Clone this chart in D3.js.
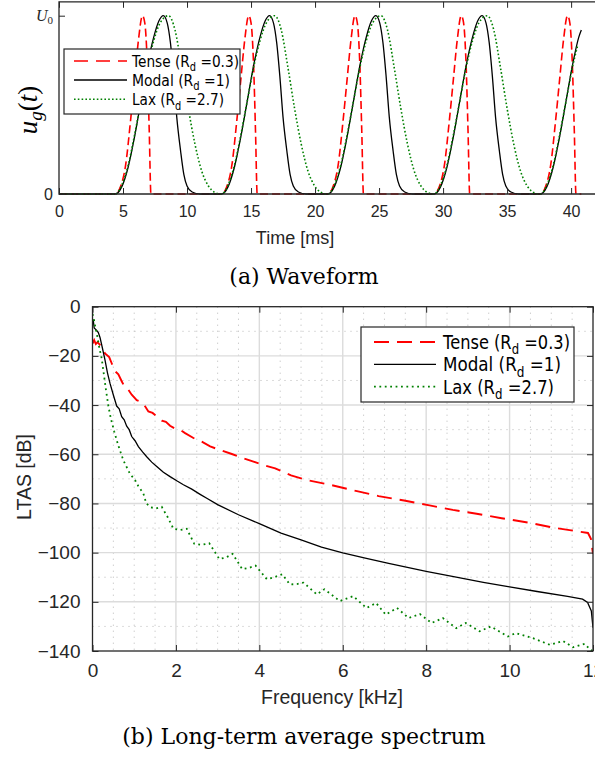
<!DOCTYPE html>
<html lang="en">
<head>
<meta charset="utf-8">
<title>Glottal waveform and LTAS</title>
<script src="https://d3js.org/d3.v7.min.js"></script>
<style>
body { margin: 0; background: #fff; }
svg { display: block; }
</style>
</head>
<body>
<div id="chart"></div>
<script>

// ---------- data ----------

// (a) waveform, [time ms, u/U0]
var tenseWave = [[0,0],
  [4.4,0],[4.8,.04],[5.2,.16],[5.6,.42],[5.9,.64],[6.2,.86],[6.52,1],[6.7,.96],[6.9,.72],[7.05,.35],[7.18,0],
  [12.7,0],[13.1,.04],[13.5,.16],[13.9,.42],[14.2,.64],[14.5,.86],[14.82,1],[15.0,.96],[15.2,.72],[15.35,.35],[15.48,0],
  [21.0,0],[21.4,.04],[21.8,.16],[22.2,.42],[22.5,.64],[22.8,.86],[23.12,1],[23.3,.96],[23.5,.72],[23.65,.35],[23.78,0],
  [29.3,0],[29.7,.04],[30.1,.16],[30.5,.42],[30.8,.64],[31.1,.86],[31.42,1],[31.6,.96],[31.8,.72],[31.95,.35],[32.08,0],
  [37.6,0],[38.0,.04],[38.4,.16],[38.8,.42],[39.1,.64],[39.4,.86],[39.72,1],[39.9,.96],[40.1,.72],[40.25,.35],[40.38,0],[40.8,0]];

var modalWave = [[0,0],
  [4.4,0],[4.9,.04],[5.4,.15],[5.9,.32],[6.4,.52],[6.9,.72],[7.4,.88],[7.8,.97],[8.15,1],[8.45,.96],[8.7,.85],[8.95,.66],[9.2,.43],[9.5,.24],[9.75,.11],[10.0,.045],[10.4,.011],[11.0,0],
  [12.7,0],[13.2,.04],[13.7,.15],[14.2,.32],[14.7,.52],[15.2,.72],[15.7,.88],[16.1,.97],[16.45,1],[16.75,.96],[17.0,.85],[17.25,.66],[17.5,.43],[17.8,.24],[18.05,.11],[18.3,.045],[18.7,.011],[19.3,0],
  [21.0,0],[21.5,.04],[22.0,.15],[22.5,.32],[23.0,.52],[23.5,.72],[24.0,.88],[24.4,.97],[24.75,1],[25.05,.96],[25.3,.85],[25.55,.66],[25.8,.43],[26.1,.24],[26.35,.11],[26.6,.045],[27.0,.011],[27.6,0],
  [29.3,0],[29.8,.04],[30.3,.15],[30.8,.32],[31.3,.52],[31.8,.72],[32.3,.88],[32.7,.97],[33.05,1],[33.35,.96],[33.6,.85],[33.85,.66],[34.1,.43],[34.4,.24],[34.65,.11],[34.9,.045],[35.3,.011],[35.9,0],
  [37.6,0],[38.1,.04],[38.6,.15],[39.1,.32],[39.6,.52],[40.1,.72],[40.6,.88],[40.8,.92]];

var laxWave = [[0,0],
  [4.4,0],[4.9,.05],[5.4,.16],[5.9,.33],[6.4,.52],[6.9,.71],[7.4,.86],[7.9,.96],[8.55,1],[9.06,.92],[9.58,.71],[10.1,.48],[10.62,.28],[11.14,.13],[11.67,.045],[12.19,.008],[12.6,0],
  [12.7,0],[13.2,.05],[13.7,.16],[14.2,.33],[14.7,.52],[15.2,.71],[15.7,.86],[16.2,.96],[16.85,1],[17.36,.92],[17.88,.71],[18.4,.48],[18.92,.28],[19.44,.13],[19.97,.045],[20.49,.008],[20.9,0],
  [21.0,0],[21.5,.05],[22.0,.16],[22.5,.33],[23.0,.52],[23.5,.71],[24.0,.86],[24.5,.96],[25.15,1],[25.66,.92],[26.18,.71],[26.7,.48],[27.22,.28],[27.74,.13],[28.27,.045],[28.79,.008],[29.2,0],
  [29.3,0],[29.8,.05],[30.3,.16],[30.8,.33],[31.3,.52],[31.8,.71],[32.3,.86],[32.8,.96],[33.45,1],[33.96,.92],[34.48,.71],[35.0,.48],[35.52,.28],[36.04,.13],[36.57,.045],[37.09,.008],[37.5,0],
  [37.6,0],[38.1,.05],[38.6,.16],[39.1,.33],[39.6,.52],[40.1,.71],[40.5,.83]];

var timeTicks = [0,5,10,15,20,25,30,35,40];

// (b) LTAS, [frequency kHz, dB]
var tenseLtas = [[0,-15],[0.04,-13.6],[0.08,-15.2],[0.12,-14.4],[0.22,-16.3],[0.3,-19],[0.4,-20.5],[0.46,-23],[0.54,-26.2],
  [0.62,-27.5],[0.7,-30.3],[0.78,-33],[0.86,-33.8],[0.94,-35.8],[1.06,-38],[1.16,-38.6],[1.26,-40.5],[1.34,-42.6],
  [1.44,-43.2],[1.54,-44.6],[1.66,-46.3],[1.76,-46.8],[1.86,-48.4],[2.02,-50],[2.12,-50.3],[2.22,-51.4],[2.42,-53.4],
  [2.62,-54.9],[2.82,-56.8],[3.06,-58.3],[3.34,-59.9],[3.58,-61.4],[3.86,-63],[4.1,-64.4],[4.38,-65.7],[4.76,-68.6],
  [5.17,-70.6],[5.77,-72.7],[6.34,-75],[6.86,-77],[7.47,-78.8],[8.08,-80.8],[8.64,-82.6],[9.21,-84.2],[9.81,-86],
  [10.48,-87.9],[11.07,-89.9],[11.65,-91.4],[11.88,-92],[11.95,-94.4],[12,-100.5]];

var modalLtas = [[0,-6.5],[0.02,-5.8],[0.04,-8.6],[0.1,-9.6],[0.14,-10.5],[0.18,-12.5],[0.24,-17],[0.3,-21.7],[0.36,-27],
  [0.42,-31.2],[0.5,-35.9],[0.58,-40.4],[0.64,-41.5],[0.7,-44.7],[0.76,-46],[0.82,-48.6],[0.88,-50],[0.94,-52.8],
  [1.02,-54.5],[1.1,-56.9],[1.2,-59],[1.3,-61],[1.42,-63.2],[1.54,-65],[1.7,-67.3],[1.86,-69.1],[2.02,-70.8],
  [2.18,-72.4],[2.38,-74.2],[2.58,-76.3],[2.74,-77.9],[3,-80.5],[3.5,-84.6],[4,-88.2],[4.52,-92.1],[5,-94.8],
  [5.49,-97.8],[6,-100.1],[6.54,-102.2],[7.1,-104.4],[8,-107.6],[8.72,-110],[9.37,-112.1],[10,-113.9],[10.66,-115.8],
  [11.39,-117.8],[11.75,-118.9],[11.87,-120.3],[11.96,-123.7],[12,-130.5]];

var laxLtas = [[0,-3],[0.02,-4],[0.06,-7.5],[0.12,-12.5],[0.16,-16.5],[0.22,-21],[0.26,-26],[0.32,-33.5],[0.38,-40.3],
  [0.44,-45.5],[0.52,-50.7],[0.62,-56.5],[0.74,-62.5],[0.9,-68],[1.02,-70.5],[1.1,-73],[1.22,-76],[1.29,-80],
  [1.4,-81.6],[1.52,-82],[1.66,-81.4],[1.8,-85.5],[1.94,-90.3],[2.1,-90.8],[2.26,-90.3],[2.44,-96.4],[2.62,-96.8],
  [2.8,-96.2],[3.04,-102.6],[3.2,-102],[3.36,-100.5],[3.59,-106.7],[3.75,-106.2],[3.91,-105.3],[4.18,-110.8],
  [4.36,-110],[4.55,-108.8],[4.73,-112.9],[4.9,-112.8],[5.06,-112.2],[5.38,-117],[5.56,-114.9],[5.93,-119.7],
  [6.25,-117.7],[6.57,-122.5],[6.8,-120.5],[7.03,-125.2],[7.3,-122.5],[7.58,-126.6],[7.85,-125],[8.13,-128.6],
  [8.4,-126.6],[8.72,-130.7],[8.95,-128.6],[9.28,-132],[9.55,-130],[9.96,-134.1],[10.15,-132.7],[10.56,-134.8],
  [10.97,-137.5],[11.28,-135.9],[11.52,-138.5],[11.8,-137.1],[11.94,-139.6],[12,-140]];

var freqTicks = [0,2,4,6,8,10,12];
var dbTicks = [0,-20,-40,-60,-80,-100,-120,-140];
var freqMinor = [0.5,1,1.5,2.5,3,3.5,4.5,5,5.5,6.5,7,7.5,8.5,9,9.5,10.5,11,11.5];
var dbMinor = [-10,-30,-50,-70,-90,-110,-130];

var seriesNames = ["Tense", "Modal", "Lax"];
var seriesRd = ["0.3", "1", "2.7"];

// ---------- drawing ----------

var axisColor = "#262626";
var sans = "'Liberation Sans', Arial, sans-serif";
var serif = "'DejaVu Serif', serif";

var svg = d3.select("#chart").append("svg")
    .attr("width", 595)
    .attr("height", 758);

function styleAxis(g, size) {
  g.select(".domain").remove();
  g.selectAll(".tick line").attr("stroke", axisColor).attr("stroke-width", 1);
  g.selectAll(".tick text")
    .attr("font-family", sans)
    .attr("font-size", size)
    .attr("fill", axisColor);
}

function legendLabel(sel, i, fontSize) {
  sel.append("tspan").text(seriesNames[i] + " (R");
  sel.append("tspan").text("d").attr("font-size", fontSize * 0.72).attr("dy", fontSize * 0.28);
  sel.append("tspan").text(" =" + seriesRd[i] + ")").attr("dy", -fontSize * 0.28);
}

// ===== (a) Waveform =====
var xT = d3.scaleLinear().domain([0, 42.1]).range([59, 598]);
var yT = d3.scaleLinear().domain([0, 1]).range([194, 15.7]);
var topA = yT(1.078);

var gA = svg.append("g");

var lineT = d3.line()
    .x(function(d) { return xT(d[0]); })
    .y(function(d) { return yT(d[1]); })
    .curve(d3.curveMonotoneX);

gA.append("path").datum(tenseWave)
    .attr("d", lineT).attr("fill", "none")
    .attr("stroke", "#ff0000").attr("stroke-width", 1.6).attr("stroke-dasharray", "8,4");
gA.append("path").datum(modalWave)
    .attr("d", lineT).attr("fill", "none")
    .attr("stroke", "#000").attr("stroke-width", 1.3);
gA.append("path").datum(laxWave)
    .attr("d", lineT).attr("fill", "none")
    .attr("stroke", "#008000").attr("stroke-width", 1.6).attr("stroke-dasharray", "1.6,2.2");

// box
gA.append("path")
    .attr("d", "M598," + topA + "H59V194H598")
    .attr("fill", "none").attr("stroke", axisColor).attr("stroke-width", 1.3);

var axB = gA.append("g").attr("transform", "translate(0,194)")
    .call(d3.axisBottom(xT).tickValues(timeTicks).tickSizeInner(-6).tickSizeOuter(0).tickPadding(12));
styleAxis(axB, 16);
var axT = gA.append("g").attr("transform", "translate(0," + topA + ")")
    .call(d3.axisTop(xT).tickValues(timeTicks).tickFormat("").tickSizeInner(-6).tickSizeOuter(0));
styleAxis(axT, 16);
var axL = gA.append("g").attr("transform", "translate(59,0)")
    .call(d3.axisLeft(yT).tickValues([0, 1]).tickFormat("").tickSizeInner(-6).tickSizeOuter(0));
styleAxis(axL, 16);

gA.append("text").attr("x", 53).attr("y", yT(0) + 6)
    .attr("text-anchor", "end").attr("font-family", sans).attr("font-size", 16).attr("fill", axisColor)
    .text("0");
var u0 = gA.append("text").attr("x", 53).attr("y", yT(1) + 5)
    .attr("text-anchor", "end").attr("font-family", "'Liberation Serif', serif").attr("font-size", 16).attr("fill", axisColor);
u0.append("tspan").attr("font-style", "italic").text("U");
u0.append("tspan").attr("font-size", 11).attr("dy", 3).text("0");

var yl = gA.append("text")
    .attr("transform", "translate(37,110) rotate(-90)")
    .attr("text-anchor", "middle")
    .attr("font-family", "'Liberation Serif', serif").attr("font-size", 27).attr("fill", "#000");
yl.append("tspan").attr("font-style", "italic").text("u");
yl.append("tspan").attr("font-style", "italic").attr("font-size", 19).attr("dy", 5).text("g");
yl.append("tspan").attr("dy", -5).text("(");
yl.append("tspan").attr("font-style", "italic").text("t");
yl.append("tspan").text(")");

gA.append("text").attr("x", 295).attr("y", 243.5)
    .attr("text-anchor", "middle").attr("font-family", sans).attr("font-size", 18).attr("fill", axisColor)
    .text("Time [ms]");

// legend (a)
var legA = gA.append("g");
legA.append("rect").attr("x", 64).attr("y", 49).attr("width", 176).attr("height", 65)
    .attr("fill", "#fff").attr("stroke", axisColor).attr("stroke-width", 1.2);
var rowsA = [61, 80, 99.3];
var widthsA = [107, 98, 92];
var styleA = [["#ff0000", 1.6, "14,8"], ["#000", 1.3, null], ["#008000", 1.6, "1.6,2.2"]];
rowsA.forEach(function(ry, i) {
  legA.append("line").attr("x1", 74).attr("x2", 127).attr("y1", ry).attr("y2", ry)
      .attr("stroke", styleA[i][0]).attr("stroke-width", styleA[i][1])
      .attr("stroke-dasharray", styleA[i][2]);
  var t = legA.append("text").attr("x", 132).attr("y", ry + 6)
      .attr("font-family", "'DejaVu Sans', sans-serif").attr("font-size", 16).attr("fill", "#000")
      .attr("textLength", widthsA[i]).attr("lengthAdjust", "spacingAndGlyphs");
  legendLabel(t, i, 16);
});

svg.append("text").attr("x", 304).attr("y", 284)
    .attr("text-anchor", "middle").attr("font-family", serif).attr("font-size", 22).attr("fill", "#000")
    .text("(a) Waveform");

// ===== (b) LTAS =====
var xB = d3.scaleLinear().domain([0, 12]).range([92.5, 593]);
var yB = d3.scaleLinear().domain([-140, 0]).range([651, 306.7]);

var gB = svg.append("g");

gB.append("clipPath").attr("id", "clipB").append("rect")
    .attr("x", xB(0)).attr("y", yB(0)).attr("width", xB(12) - xB(0)).attr("height", yB(-140) - yB(0));

// minor grid
gB.selectAll(".vminor").data(freqMinor).enter().append("line")
    .attr("x1", function(d) { return xB(d); }).attr("x2", function(d) { return xB(d); })
    .attr("y1", yB(0)).attr("y2", yB(-140))
    .attr("stroke", "#b8b8b8").attr("stroke-width", 1).attr("stroke-dasharray", "1,5");
gB.selectAll(".hminor").data(dbMinor).enter().append("line")
    .attr("y1", function(d) { return yB(d); }).attr("y2", function(d) { return yB(d); })
    .attr("x1", xB(0)).attr("x2", xB(12))
    .attr("stroke", "#b8b8b8").attr("stroke-width", 1).attr("stroke-dasharray", "1,5");
// major grid
gB.selectAll(".vmajor").data(freqTicks.slice(1, -1)).enter().append("line")
    .attr("x1", function(d) { return xB(d); }).attr("x2", function(d) { return xB(d); })
    .attr("y1", yB(0)).attr("y2", yB(-140))
    .attr("stroke", "#dcdcdc").attr("stroke-width", 1.4);
gB.selectAll(".hmajor").data(dbTicks.slice(1, -1)).enter().append("line")
    .attr("y1", function(d) { return yB(d); }).attr("y2", function(d) { return yB(d); })
    .attr("x1", xB(0)).attr("x2", xB(12))
    .attr("stroke", "#dcdcdc").attr("stroke-width", 1.4);

var lineB = d3.line()
    .x(function(d) { return xB(d[0]); })
    .y(function(d) { return yB(d[1]); });

var curves = gB.append("g").attr("clip-path", "url(#clipB)");
curves.append("path").datum(tenseLtas)
    .attr("d", lineB).attr("fill", "none")
    .attr("stroke", "#ff0000").attr("stroke-width", 1.9).attr("stroke-dasharray", "15,8");
curves.append("path").datum(modalLtas)
    .attr("d", lineB).attr("fill", "none")
    .attr("stroke", "#000").attr("stroke-width", 1.3);
curves.append("path").datum(laxLtas)
    .attr("d", lineB).attr("fill", "none")
    .attr("stroke", "#008000").attr("stroke-width", 1.8).attr("stroke-dasharray", "1.8,3.6");

gB.append("rect").attr("x", xB(0)).attr("y", yB(0))
    .attr("width", xB(12) - xB(0)).attr("height", yB(-140) - yB(0))
    .attr("fill", "none").attr("stroke", axisColor).attr("stroke-width", 1.3);

var bxB = gB.append("g").attr("transform", "translate(0," + yB(-140) + ")")
    .call(d3.axisBottom(xB).tickValues(freqTicks).tickSizeInner(-6).tickSizeOuter(0).tickPadding(13));
styleAxis(bxB, 19);
var bxT = gB.append("g").attr("transform", "translate(0," + yB(0) + ")")
    .call(d3.axisTop(xB).tickValues(freqTicks).tickFormat("").tickSizeInner(-6).tickSizeOuter(0));
styleAxis(bxT, 19);
var byL = gB.append("g").attr("transform", "translate(" + xB(0) + ",0)")
    .call(d3.axisLeft(yB).tickValues(dbTicks).tickSizeInner(-6).tickSizeOuter(0).tickPadding(12));
styleAxis(byL, 19);
var byR = gB.append("g").attr("transform", "translate(" + xB(12) + ",0)")
    .call(d3.axisRight(yB).tickValues(dbTicks).tickFormat("").tickSizeInner(-6).tickSizeOuter(0));
styleAxis(byR, 19);

gB.append("text")
    .attr("transform", "translate(31,477) rotate(-90)")
    .attr("text-anchor", "middle").attr("font-family", sans).attr("font-size", 19.5).attr("fill", axisColor)
    .text("LTAS [dB]");
gB.append("text").attr("x", 332).attr("y", 704)
    .attr("text-anchor", "middle").attr("font-family", sans).attr("font-size", 19.5).attr("fill", axisColor)
    .text("Frequency [kHz]");

// legend (b)
var legB = gB.append("g");
legB.append("rect").attr("x", 361).attr("y", 327).attr("width", 213).attr("height", 75)
    .attr("fill", "#fff").attr("stroke", axisColor).attr("stroke-width", 1.2);
var rowsB = [342, 364.3, 386.7];
var widthsB = [127, 118, 111];
var styleB = [["#ff0000", 1.9, "15,8"], ["#000", 1.3, null], ["#008000", 1.8, "1.8,3.6"]];
rowsB.forEach(function(ry, i) {
  legB.append("line").attr("x1", 374).attr("x2", 436).attr("y1", ry).attr("y2", ry)
      .attr("stroke", styleB[i][0]).attr("stroke-width", styleB[i][1])
      .attr("stroke-dasharray", styleB[i][2]);
  var t = legB.append("text").attr("x", 443).attr("y", ry + 7)
      .attr("font-family", "'DejaVu Sans', sans-serif").attr("font-size", 19).attr("fill", "#000")
      .attr("textLength", widthsB[i]).attr("lengthAdjust", "spacingAndGlyphs");
  legendLabel(t, i, 19);
});

svg.append("text").attr("x", 304).attr("y", 744)
    .attr("text-anchor", "middle").attr("font-family", serif).attr("font-size", 22).attr("fill", "#000")
    .text("(b) Long-term average spectrum");

</script>
</body>
</html>
